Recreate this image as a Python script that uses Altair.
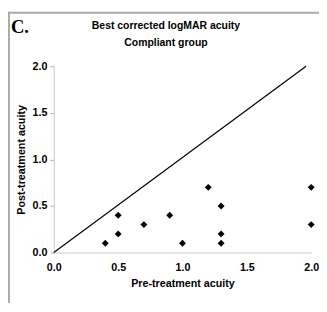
import altair as alt
import pandas as pd

pre = [0.4, 0.5, 0.5, 0.7, 0.9, 1.0, 1.2, 1.3, 1.3, 1.3, 2.0, 2.0]
post = [0.1, 0.4, 0.2, 0.3, 0.4, 0.1, 0.7, 0.5, 0.2, 0.1, 0.7, 0.3]
diag_x = [0.0, 1.96]
diag_y = [0.0, 2.0]
ticks = [0.0, 0.5, 1.0, 1.5, 2.0]
title_lines = ["Best corrected logMAR acuity", "Compliant group"]

pts = pd.DataFrame({"pre": pre, "post": post})
diag = pd.DataFrame({"pre": diag_x, "post": diag_y})

FONT = "Liberation Sans"

xs = alt.Scale(domain=[0, 2], nice=False, zero=True)
ys = alt.Scale(domain=[0, 2], nice=False, zero=True)

xaxis = alt.Axis(values=ticks, format=".1f", title="Pre-treatment acuity", grid=False,
                 ticks=False, labelPadding=9, titlePadding=6, domainColor="#c8c8c8",
                 labelFlush=False)
yaxis = alt.Axis(values=ticks, format=".1f", title="Post-treatment acuity", grid=False,
                 ticks=True, tickSize=4, tickColor="#b0b0b0", labelPadding=3,
                 titlePadding=6, domainColor="#c8c8c8", labelFlush=False)

line = alt.Chart(diag).mark_line(color="black", strokeWidth=1.2, clip=False).encode(
    x=alt.X("pre:Q", scale=xs, axis=xaxis),
    y=alt.Y("post:Q", scale=ys, axis=yaxis),
)

points = alt.Chart(pts).mark_point(shape="diamond", filled=True, color="black",
                                   size=50, opacity=1).encode(
    x=alt.X("pre:Q", scale=xs),
    y=alt.Y("post:Q", scale=ys),
)

label = alt.Chart(pd.DataFrame({"t": ["C."]})).mark_text(
    font="Liberation Serif", fontSize=19, fontWeight="bold", align="left",
    baseline="alphabetic", color="black"
).encode(text="t:N", x=alt.value(-44), y=alt.value(-34))

title1 = alt.Chart(pd.DataFrame({"t": [title_lines[0]]})).mark_text(
    font=FONT, fontSize=10.7, fontWeight="bold", align="center", baseline="middle", color="black"
).encode(text="t:N", x=alt.value(115), y=alt.value(-41))
title2 = alt.Chart(pd.DataFrame({"t": [title_lines[1]]})).mark_text(
    font=FONT, fontSize=10.7, fontWeight="bold", align="center", baseline="middle", color="black"
).encode(text="t:N", x=alt.value(115), y=alt.value(-24))

frame_top = alt.Chart(pd.DataFrame({"a": [0]})).mark_rule(color="#aaaaaa", strokeWidth=2).encode(
    x=alt.value(-47), x2=alt.value(280), y=alt.value(-55))
frame_left = alt.Chart(pd.DataFrame({"a": [0]})).mark_rule(color="#aaaaaa", strokeWidth=2).encode(
    x=alt.value(-46), y=alt.value(-56), y2=alt.value(250))

chart = alt.layer(frame_top, frame_left, line, points, label, title1, title2).properties(
    width=264, height=191,
    autosize=alt.AutoSizeParams(type="none"),
    padding={"left": 47, "top": 56, "right": 8, "bottom": 48},
).configure_view(stroke=None).configure_axis(
    labelFont=FONT, labelFontSize=11, labelFontWeight="bold", labelColor="black",
    titleFont=FONT, titleFontSize=11, titleFontWeight="bold", titleColor="black",
    domainWidth=1,
)

chart.save("out.html", embed_options={"renderer": "svg", "actions": False})
